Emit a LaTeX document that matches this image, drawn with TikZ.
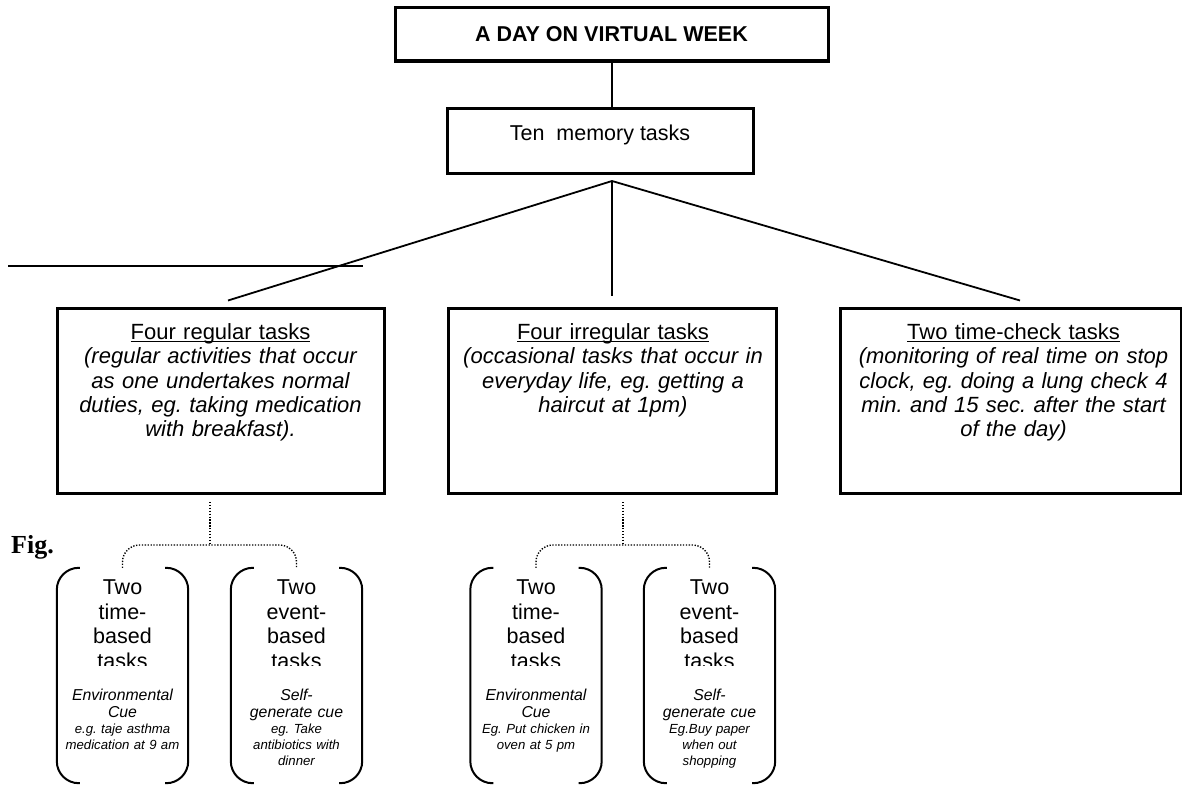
\documentclass[tikz,border=0pt]{standalone}
\usepackage{fontspec}
\setmainfont{Liberation Sans}
\newfontfamily\figfont{Liberation Serif}
\frenchspacing
\begin{document}
\frenchspacing
\begin{tikzpicture}[x=1pt,y=-1pt,
  bigbox/.style={draw, line width=3pt, inner sep=0pt},
  conn/.style={line width=1.8pt},
  dotline/.style={line width=1.4pt, dash pattern=on 1.3pt off 1.6pt, rounded corners=17pt},
  brk/.style={line width=2pt, rounded corners=22pt},
  slot/.style={inner sep=0pt, minimum width=131pt, minimum height=215pt},
  txt/.style={inner sep=0pt, align=center, font=\fontsize{21.5}{24.3}\selectfont},
  boxtxt/.style={inner sep=0pt, align=center, text width=335pt, font=\fontsize{22}{24.3}\selectfont},
  bigtxt/.style={inner sep=0pt, align=center, text width=131pt, font=\fontsize{21.5}{24.5}\selectfont},
  cuetxt/.style={inner sep=0pt, align=center, text width=131pt, font=\fontsize{15.8}{17.3}\selectfont\itshape},
  egtxt/.style={inner sep=0pt, align=center, text width=131pt, font=\fontsize{13.2}{16}\selectfont\itshape}
]
\useasboundingbox (0,0) rectangle (1182,784);

% boxes
\node[bigbox, minimum width=433pt, minimum height=53pt] (top) at (612,34.5) {};
\node[inner sep=0pt, anchor=base, font=\fontsize{21.5}{24.3}\selectfont\bfseries] (topT) at (611.5,41.5) {A DAY ON VIRTUAL WEEK};
\node[bigbox, minimum width=306pt, minimum height=65pt] (ten) at (600,140.5) {};
\node[txt, anchor=base] (tenT) at (600,140.5) {Ten\ \ memory tasks};

\node[bigbox, minimum width=327pt, minimum height=185pt] (reg) at (220.5,400.5) {};
\node[bigbox, minimum width=328pt, minimum height=185pt] (irr) at (612,400.5) {};
\node[bigbox, minimum width=341pt, minimum height=185pt] (tc) at (1010.5,400.5) {};

\node[boxtxt, anchor=base] (regT) at (220.5,339.5) {\underline{\smash{Four regular tasks}}\\
  \itshape (regular activities that occur\\as one undertakes normal\\duties, eg. taking medication\\with breakfast).};
\node[boxtxt, anchor=base] (irrT) at (613,339.5) {\underline{\smash{Four irregular tasks}}\\
  \itshape (occasional tasks that occur in\\everyday life, eg. getting a\\haircut at 1pm)};
\node[boxtxt, anchor=base] (tcT) at (1013.5,339.5) {\underline{\smash{Two time-check tasks}}\\
  \itshape (monitoring of real time on stop\\clock, eg. doing a lung check 4\\min. and 15 sec. after the start\\of the day)};

% connectors
\draw[conn] (top.south) -- (top.south |- ten.north);
\coordinate (hub) at (612,181);
\draw[conn] (hub) -- ([shift={(7.5,-6)}]reg.north);
\draw[conn] (hub) -- ([shift={(0,-11)}]irr.north);
\draw[conn] (hub) -- ([shift={(9.5,-6)}]tc.north);

% stray line
\coordinate (s1) at (8,266);
\coordinate (s2) at (363,266);
\draw[conn] (s1) -- (s2);

% Fig.
\node[inner sep=0pt, anchor=base west, font=\figfont\fontsize{26}{28}\selectfont\bfseries] (fig) at (11,553) {Fig.};

% bracket slots
\node[slot] (b1) at (122.5,675.5) {};
\node[slot] (b2) at (296.5,675.5) {};
\node[slot] (b3) at (536,675.5) {};
\node[slot] (b4) at (709.5,675.5) {};
\foreach \n in {b1,b2,b3,b4}{
  \draw[brk] ([xshift=23pt]\n.north west) -- (\n.north west) -- (\n.south west) -- ([xshift=23pt]\n.south west);
  \draw[brk] ([xshift=-23pt]\n.north east) -- (\n.north east) -- (\n.south east) -- ([xshift=-23pt]\n.south east);
}

% dotted connectors
\coordinate (d1) at (210,502);
\coordinate (j1) at (210,545);
\draw[dotline] (d1) -- (j1);
\draw[dotline] (b1.north) -- (b1.north |- j1) -- (b2.north |- j1) -- (b2.north);
\coordinate (d2) at (623,502);
\coordinate (j2) at (623,545);
\draw[dotline] (d2) -- (j2);
\draw[dotline] (b3.north) -- (b3.north |- j2) -- (b4.north |- j2) -- (b4.north);

% bracket texts
\begin{scope}
\clip (40,560) rectangle (800,665);
\node[bigtxt, anchor=base] (b1T) at (122.5,594.5) {Two\\time-\\based\\tasks};
\node[bigtxt, anchor=base] (b2T) at (296.5,594.5) {Two\\event-\\based\\tasks};
\node[bigtxt, anchor=base] (b3T) at (536,594.5) {Two\\time-\\based\\tasks};
\node[bigtxt, anchor=base] (b4T) at (709.5,594.5) {Two\\event-\\based\\tasks};
\end{scope}

\node[cuetxt, anchor=base] (b1C) at (122.5,700.5) {Environmental\\Cue};
\node[egtxt, anchor=base] (b1E) at (122.5,733.5) {e.g. taje asthma\\medication at 9 am};
\node[cuetxt, anchor=base] (b2C) at (296.5,700.5) {Self-\\generate cue};
\node[egtxt, anchor=base] (b2E) at (296.5,733.5) {eg. Take\\antibiotics with\\dinner};
\node[cuetxt, anchor=base] (b3C) at (536,700.5) {Environmental\\Cue};
\node[egtxt, anchor=base] (b3E) at (536,733.5) {Eg. Put chicken in\\oven at 5 pm};
\node[cuetxt, anchor=base] (b4C) at (709.5,700.5) {Self-\\generate cue};
\node[egtxt, anchor=base] (b4E) at (709.5,733.5) {Eg.Buy paper\\when out\\shopping};
\end{tikzpicture}
\end{document}
